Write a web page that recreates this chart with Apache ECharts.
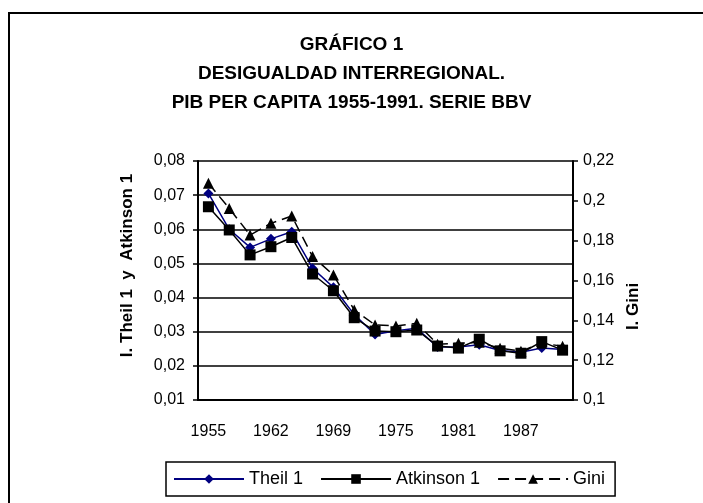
<!DOCTYPE html>
<html>
<head>
<meta charset="utf-8">
<script src="https://cdn.jsdelivr.net/npm/echarts@6/dist/echarts.min.js"></script>
<style>
  html, body { margin: 0; padding: 0; background: #fff; }
  #chart { width: 703px; height: 503px; }
</style>
</head>
<body>
<div id="chart"></div>
<script>
// años de la serie BBV
const years = ['1955', '1957', '1960', '1962', '1964', '1967', '1969', '1971', '1973',
  '1975', '1977', '1979', '1981', '1983', '1985', '1987', '1989', '1991']

// eje izquierdo
const theil = [0.0705, 0.0600, 0.0547, 0.0572, 0.0593, 0.0486, 0.0430, 0.0350, 0.0292,
  0.0303, 0.0310, 0.0255, 0.0255, 0.0262, 0.0245, 0.0240, 0.0252, 0.0248]
const atkinson = [0.0666, 0.0598, 0.0525, 0.0549, 0.0576, 0.0469, 0.0420, 0.0341, 0.0302,
  0.0300, 0.0305, 0.0258, 0.0252, 0.0278, 0.0244, 0.0237, 0.0271, 0.0246]

// eje derecho
const gini = [0.2088, 0.1962, 0.1828, 0.1887, 0.1924, 0.1720, 0.1628, 0.1452, 0.1377,
  0.1372, 0.1385, 0.1280, 0.1285, 0.1290, 0.1260, 0.1245, 0.1285, 0.1270]

const leftTicks = [0.01, 0.08, 0.01]   // min, max, paso
const rightTicks = [0.1, 0.22, 0.02]

const font = "'Liberation Sans', Arial, sans-serif"
const chart = echarts.init(document.getElementById('chart'))

chart.setOption({
  animation: false,
  textStyle: { fontFamily: font, color: '#000' },
  graphic: [{
    type: 'rect',
    shape: { x: 9, y: 13, width: 720, height: 520 },
    style: { fill: 'none', stroke: '#000', lineWidth: 2 },
    silent: true
  }],
  title: {
    text: 'GRÁFICO 1\nDESIGUALDAD INTERREGIONAL.\nPIB PER CAPITA 1955-1991. SERIE BBV',
    left: 'center',
    top: 30,
    padding: 0,
    textStyle: { fontSize: 19, fontWeight: 'bold', lineHeight: 29, fontFamily: font, color: '#000', align: 'center' }
  },
  legend: {
    left: 166,
    top: 462,
    padding: [8, 10, 8, 7],
    itemWidth: 70,
    itemHeight: 12,
    itemGap: 17,
    borderColor: '#000',
    borderWidth: 1.5,
    textStyle: { fontSize: 18, fontFamily: font, color: '#000' },
    data: ['Theil 1', 'Atkinson 1', 'Gini']
  },
  grid: { left: 198, right: 130, top: 161, bottom: 103 },
  xAxis: {
    type: 'category',
    data: years,
    axisLine: { lineStyle: { color: '#000', width: 2 } },
    axisTick: { alignWithLabel: false, interval: 0, length: 5, lineStyle: { color: '#000', width: 1.5 } },
    axisLabel: { interval: 2, fontSize: 16, margin: 24, color: '#000' }
  },
  yAxis: [{
    type: 'value',
    min: leftTicks[0],
    max: leftTicks[1],
    interval: leftTicks[2],
    name: 'I. Theil 1  y  Atkinson 1',
    nameLocation: 'middle',
    nameGap: 62,
    nameRotate: 90,
    nameTextStyle: { fontSize: 17, fontWeight: 'bold', color: '#000', padding: [0, 0, 0, 30] },
    axisLine: { show: true, lineStyle: { color: '#000', width: 2 } },
    axisTick: { show: true, length: 5, lineStyle: { color: '#000', width: 1.5 } },
    axisLabel: { fontSize: 16, margin: 13, color: '#000', formatter: v => v.toFixed(2).replace('.', ',') },
    splitLine: { lineStyle: { color: '#000', width: 1.5 } }
  }, {
    type: 'value',
    position: 'right',
    min: rightTicks[0],
    max: rightTicks[1],
    interval: rightTicks[2],
    name: 'I. Gini',
    nameLocation: 'middle',
    nameGap: 48,
    nameRotate: 90,
    nameTextStyle: { fontSize: 17, fontWeight: 'bold', color: '#000', padding: [0, 52, 0, 0] },
    axisLine: { show: true, lineStyle: { color: '#000', width: 2 } },
    axisTick: { show: true, length: 5, lineStyle: { color: '#000', width: 1.5 } },
    axisLabel: { fontSize: 16, margin: 10, color: '#000', formatter: v => String(+v.toFixed(2)).replace('.', ',') },
    splitLine: { show: false }
  }],
  series: [{
    name: 'Theil 1',
    type: 'line',
    data: theil,
    symbol: 'diamond',
    symbolSize: 10,
    color: '#000080',
    lineStyle: { color: '#000080', width: 1.5 },
    itemStyle: { color: '#000080' }
  }, {
    name: 'Atkinson 1',
    type: 'line',
    data: atkinson,
    symbol: 'rect',
    symbolSize: 11,
    color: '#000',
    lineStyle: { color: '#000', width: 1.5 },
    itemStyle: { color: '#000' }
  }, {
    name: 'Gini',
    type: 'line',
    yAxisIndex: 1,
    data: gini,
    symbol: 'triangle',
    symbolSize: 11,
    color: '#000',
    lineStyle: { color: '#000', width: 1.5, type: [11, 6] },
    itemStyle: { color: '#000' }
  }]
})
</script>
</body>
</html>
